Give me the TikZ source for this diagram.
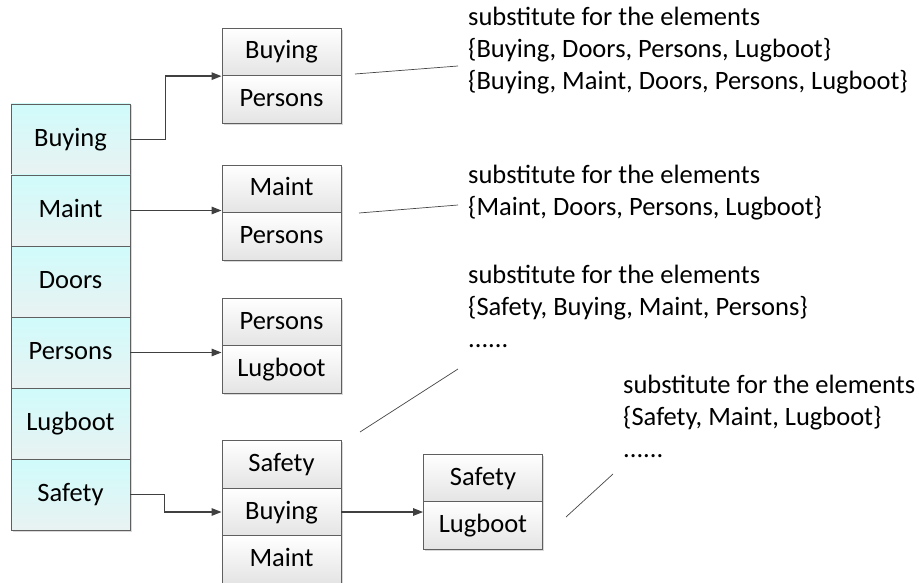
\documentclass[tikz,border=0pt]{standalone}
\usepackage{fontspec}
\setmainfont{Carlito}
\usetikzlibrary{arrows.meta, shadows}
\definecolor{framegray}{RGB}{95,95,95}
\definecolor{arrowgray}{RGB}{64,64,64}
\definecolor{linegray}{RGB}{70,70,70}
\definecolor{cyantop}{RGB}{208,251,251}
\definecolor{cyanbottom}{RGB}{233,242,242}
\definecolor{graybottom}{RGB}{228,228,228}

\begin{document}
\begin{tikzpicture}[x=1pt, y=-1pt, >={Triangle[length=10pt, width=7.5pt]},
		txt/.style={font=\fontsize{26.5}{32}\selectfont},
		attrcell/.style={draw=framegray, line width=0.8pt, top color=cyantop, bottom color=cyanbottom, minimum width=119pt, minimum height=71pt, inner sep=0pt, text height=19pt, text depth=5pt, txt, drop shadow={shadow xshift=1.5pt, shadow yshift=-1.5pt, fill=black, opacity=0.15}},
		subcell/.style={attrcell, top color=white, bottom color=graybottom, minimum height=47.5pt},
		link/.style={draw=arrowgray, line width=1.4pt},
		callout/.style={draw=linegray, line width=0.7pt},
		note/.style={anchor=north west, align=left, inner sep=0pt, txt}]
			\useasboundingbox (0, 0) rectangle (919, 583);
			
			\coordinate (n1a) at (355, 74);
			\coordinate (n1b) at (458, 66);
			\coordinate (n2a) at (359, 213);
			\coordinate (n2b) at (458, 205);
			\coordinate (n3a) at (360, 432);
			\coordinate (n3b) at (458, 369);
			\coordinate (n4a) at (566, 517);
			\coordinate (n4b) at (613, 474);
			
			\node[attrcell] (buying) at (70.5, 139.5) {Buying};
			\node[attrcell] (maint) at (70.5, 210.5) {Maint};
			\node[attrcell] (doors) at (70.5, 281.5) {Doors};
			\node[attrcell] (persons) at (70.5, 352.5) {Persons};
			\node[attrcell] (lugboot) at (70.5, 423.5) {Lugboot};
			\node[attrcell] (safety) at (70.5, 494.5) {Safety};
			
			\node[subcell] (aBuying) at (281.5, 52) {Buying};
			\node[subcell] (aPersons) at (281.5, 99.5) {Persons};
			\node[subcell] (bMaint) at (281.5, 189) {Maint};
			\node[subcell] (bPersons) at (281.5, 236.5) {Persons};
			\node[subcell] (cPersons) at (281.5, 322) {Persons};
			\node[subcell] (cLugboot) at (281.5, 369.5) {Lugboot};
			\node[subcell] (dSafety) at (281.5, 464.5) {Safety};
			\node[subcell] (dBuying) at (281.5, 512) {Buying};
			\node[subcell] (dMaint) at (281.5, 559.5) {Maint};
			\node[subcell] (eSafety) at (483, 478) {Safety};
			\node[subcell] (eLugboot) at (483, 525.5) {Lugboot};
			
			\draw[link, ->] (buying.east) -- ++(35, 0) |- (aBuying.south west);
			\draw[link, ->] (maint.east) -- (maint.east -| bMaint.west);
			\draw[link, ->] (persons.east) -- (persons.east -| cLugboot.west);
			\draw[link, ->] (safety.east) -- ++(34, 0) |- (dBuying.west);
			\draw[link, ->] (dBuying.east) -- (dBuying.east -| eLugboot.west);
			
			\draw[callout] (n1a) -- (n1b);
			\draw[callout] (n2a) -- (n2b);
			\draw[callout] (n3a) -- (n3b);
			\draw[callout] (n4a) -- (n4b);
			
			\node[note] (note1) at (468, 7) {substitute for the elements\\\{Buying, Doors, Persons, Lugboot\}\\\{Buying, Maint, Doors, Persons, Lugboot\}};
			\node[note] (note2) at (468, 165) {substitute for the elements\\\{Maint, Doors, Persons, Lugboot\}};
			\node[note] (note3) at (468, 265) {substitute for the elements\\\{Safety, Buying, Maint, Persons\}\\......};
			\node[note] (note4) at (623, 375) {substitute for the elements\\\{Safety, Maint, Lugboot\}\\......};
			
		\end{tikzpicture}
\end{document}
